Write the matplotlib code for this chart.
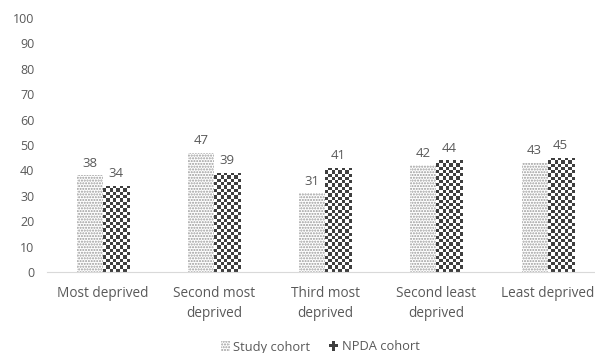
import numpy as np
import matplotlib.pyplot as plt
from matplotlib.patches import Rectangle, Patch
from matplotlib.colors import ListedColormap
from matplotlib.legend_handler import HandlerBase

categories = ['Most deprived', 'Second most\ndeprived', 'Third most\ndeprived',
              'Second least\ndeprived', 'Least deprived']
study = [38, 47, 31, 42, 43]
npda = [34, 39, 41, 44, 45]
yticks = list(range(0, 101, 10))

plt.rcParams['font.family'] = ['Open Sans', 'DejaVu Sans']
text_color = '#595959'
dark = '#3f3f3f'
dots = '#9a9a9a'


class CheckerHandler(HandlerBase):
    # small checkerboard icon for the legend
    def create_artists(self, legend, orig_handle, xdescent, ydescent,
                       width, height, fontsize, trans):
        n = 3
        s = min(width, height) / n
        x0 = -xdescent + (width - n * s) / 2
        y0 = -ydescent + (height - n * s) / 2
        arts = []
        for i in range(n):
            for j in range(n):
                if (i + j) % 2 == 0 and not (i == 1 and j == 1):
                    continue
                arts.append(Rectangle((x0 + j * s, y0 + i * s), s, s,
                                      facecolor=dark, edgecolor='none',
                                      transform=trans))
        return arts


fig = plt.figure(figsize=(5.95, 3.53), dpi=100)
ax = fig.add_axes([47 / 595, 81 / 353, 548 / 595, 254 / 353])

x = np.arange(len(categories))
w = 0.234
xlim = (-0.5, 4.426)
ax.set_xlim(*xlim)
ax.set_ylim(0, 100)

bars_s = ax.bar(x - w / 2, study, w, color='white', edgecolor=dots,
                hatch='......', linewidth=0)
bars_n = ax.bar(x + w / 2, npda, w, color='white', linewidth=0)

# checkerboard fill clipped to each NPDA bar
px_x = ax.transData.transform((1, 0))[0] - ax.transData.transform((0, 0))[0]
px_y = ax.transData.transform((0, 1))[1] - ax.transData.transform((0, 0))[1]
cell = 3.3
cmap = ListedColormap(['white', dark])
for b in bars_n:
    bx, bw, bh = b.get_x(), b.get_width(), b.get_height()
    ncol = max(1, round(bw * px_x / cell))
    nrow = max(1, round(bh * px_y / cell))
    grid = np.indices((nrow, ncol)).sum(axis=0) % 2
    im = ax.imshow(grid, cmap=cmap, extent=(bx, bx + bw, 0, bh),
                   aspect='auto', interpolation='nearest', zorder=2)
    im.set_clip_path(b)

ax.set_xlim(*xlim)
ax.set_ylim(0, 100)

ax.bar_label(bars_s, padding=4, color=text_color, fontsize=9.5)
ax.bar_label(bars_n, padding=4, color=text_color, fontsize=9.5)

ax.set_xticks(x)
ax.set_xticklabels(categories, linespacing=1.45)
ax.set_yticks(yticks)
ax.tick_params(axis='both', length=0, colors=text_color, labelsize=9)
ax.tick_params(axis='x', pad=10, labelsize=9.8)
ax.tick_params(axis='y', pad=9)

for side in ['top', 'right', 'left']:
    ax.spines[side].set_visible(False)
ax.spines['bottom'].set_color('#d9d9d9')

handles = [Patch(facecolor='white', edgecolor=dots, hatch='......', linewidth=0),
           Patch(facecolor=dark)]
fig.legend(handles, ['Study cohort', 'NPDA cohort'], loc='center',
           bbox_to_anchor=(320 / 595, 6 / 353), ncol=2, frameon=False,
           fontsize=9.3, labelcolor=text_color, handlelength=0.7,
           handleheight=0.7, handletextpad=0.3, columnspacing=1.4,
           handler_map={handles[1]: CheckerHandler()})

fig.savefig('out.png', dpi=100)
